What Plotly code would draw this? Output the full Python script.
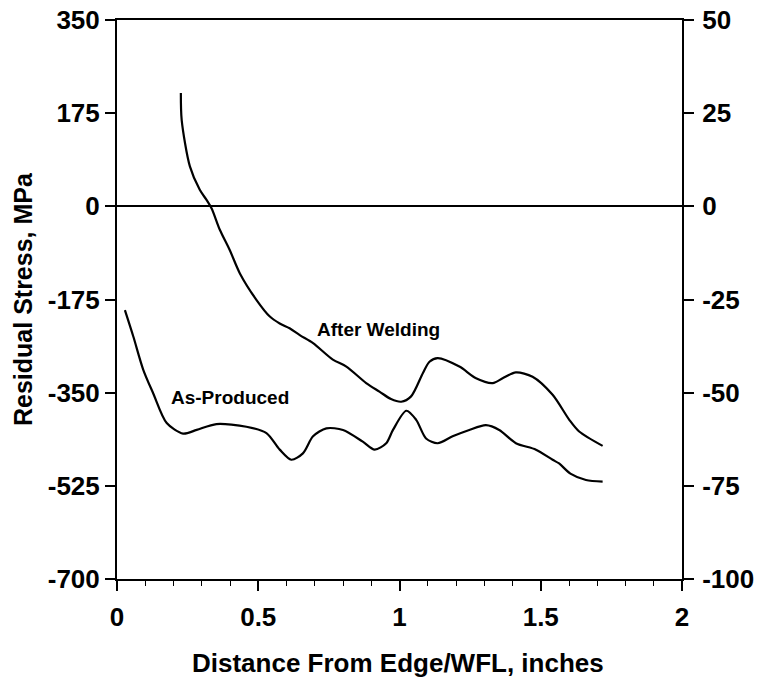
import plotly.graph_objects as go

# After Welding curve (x in inches, stress in MPa)
welding_x = [0.226, 0.229, 0.258, 0.293, 0.317, 0.335, 0.364, 0.399, 0.435, 0.494, 0.541,
             0.576, 0.611, 0.647, 0.694, 0.764, 0.812, 0.882, 0.929, 0.970, 1.006, 1.041,
             1.083, 1.106, 1.135, 1.212, 1.271, 1.330, 1.365, 1.412, 1.471, 1.542, 1.601,
             1.636, 1.719]
welding_y = [213, 162, 75, 31, 12, -4, -44, -82, -126, -176, -207,
             -220, -229, -242, -257, -288, -301, -332, -348, -362, -367, -357,
             -313, -292, -285, -301, -323, -332, -323, -312, -320, -354, -401,
             -423, -450]

# As-Produced curve
produced_x = [0.028, 0.058, 0.093, 0.128, 0.176, 0.234, 0.282, 0.352, 0.458, 0.529, 0.576,
              0.617, 0.658, 0.694, 0.741, 0.800, 0.870, 0.912, 0.953, 0.977, 1.024, 1.059,
              1.094, 1.135, 1.188, 1.247, 1.306, 1.353, 1.412, 1.483, 1.542, 1.565, 1.605,
              1.660, 1.719]
produced_y = [-195, -245, -307, -351, -407, -427, -420, -409, -414, -426, -457,
              -476, -464, -432, -417, -420, -442, -457, -445, -420, -384, -401,
              -436, -445, -432, -420, -411, -420, -445, -457, -476, -483, -502,
              -514, -517]

mpa_ticks = [-700, -525, -350, -175, 0, 175, 350]
mpa_text = ["-700", "-525", "-350", "-175", "0", "175", "350"]
ksi_ticks = [-100, -75, -50, -25, 0, 25, 50]
ksi_text = ["-100", "-75", "-50", "-25", "0", "25", "50"]
x_ticks = [0, 0.5, 1, 1.5, 2]
x_text = ["0", "0.5", "1", "1.5", "2"]

FONT = "Liberation Sans, Arial, sans-serif"
L, R, T, B = 117, 682, 20, 579
W, H = R - L, B - T


def px(xp):
    return (xp - L) / W


def py(yp):
    return 1 - (yp - T) / H


fig = go.Figure()
line_style = dict(color="black", width=2.2, shape="spline", smoothing=0.8)
fig.add_trace(go.Scatter(x=welding_x, y=welding_y, mode="lines", line=line_style,
                         name="After Welding", showlegend=False))
fig.add_trace(go.Scatter(x=produced_x, y=produced_y, mode="lines", line=line_style,
                         name="As-Produced", showlegend=False))
# invisible trace to activate secondary axis
fig.add_trace(go.Scatter(x=[0], y=[0], yaxis="y2", mode="markers",
                         marker=dict(opacity=0), showlegend=False, hoverinfo="skip"))

tickfont = dict(family=FONT, size=26, color="black", weight="bold")

fig.update_layout(
    width=757, height=683,
    margin=dict(l=L, r=757 - R, t=T, b=683 - B, autoexpand=False),
    paper_bgcolor="white", plot_bgcolor="white",
    xaxis=dict(range=[0, 2], tickvals=x_ticks, ticktext=x_text,
               ticks="outside", ticklen=10, tickwidth=1.5, tickcolor="black",
               minor=dict(dtick=0.1, ticks="outside", ticklen=5, tickwidth=1.2, tickcolor="black"),
               showline=True, linecolor="black", linewidth=2, mirror=True,
               showgrid=False, zeroline=False, tickfont=tickfont, ticklabelstandoff=4),
    yaxis=dict(range=[-700, 350], tickvals=mpa_ticks, ticktext=mpa_text,
               ticks="outside", ticklen=10, tickwidth=1.5, tickcolor="black",
               showline=True, linecolor="black", linewidth=2,
               showgrid=False, zeroline=True, zerolinecolor="black", zerolinewidth=2,
               tickfont=tickfont, ticklabelstandoff=0),
    yaxis2=dict(range=[-100, 50], tickvals=ksi_ticks, ticktext=ksi_text,
                overlaying="y", side="right",
                ticks="outside", ticklen=10, tickwidth=1.5, tickcolor="black",
                showline=True, linecolor="black", linewidth=2,
                showgrid=False, zeroline=False, tickfont=tickfont, ticklabelstandoff=3),
    showlegend=False,
)

ann_font = dict(family=FONT, size=19, color="black", weight="bold")
common = dict(xref="paper", yref="paper", showarrow=False, xanchor="center", yanchor="middle")
fig.add_annotation(text="After Welding", x=px(378), y=py(329.5), font=ann_font, **common)
fig.add_annotation(text="As-Produced", x=px(229.5), y=py(397.5), font=ann_font, **common)

fig.add_annotation(text="Residual Stress, MPa", x=px(23), y=py(299), textangle=-90,
                   font=dict(family=FONT, size=25, color="black", weight="bold"), **common)
fig.add_annotation(text="Distance From Edge/WFL, inches", x=px(397.5), y=py(663),
                   font=dict(family=FONT, size=26, color="black", weight="bold"), **common)

fig.write_html("out.html", config={"displayModeBar": False},
               post_script="document.body.style.margin='0';document.body.style.overflow='hidden';")
